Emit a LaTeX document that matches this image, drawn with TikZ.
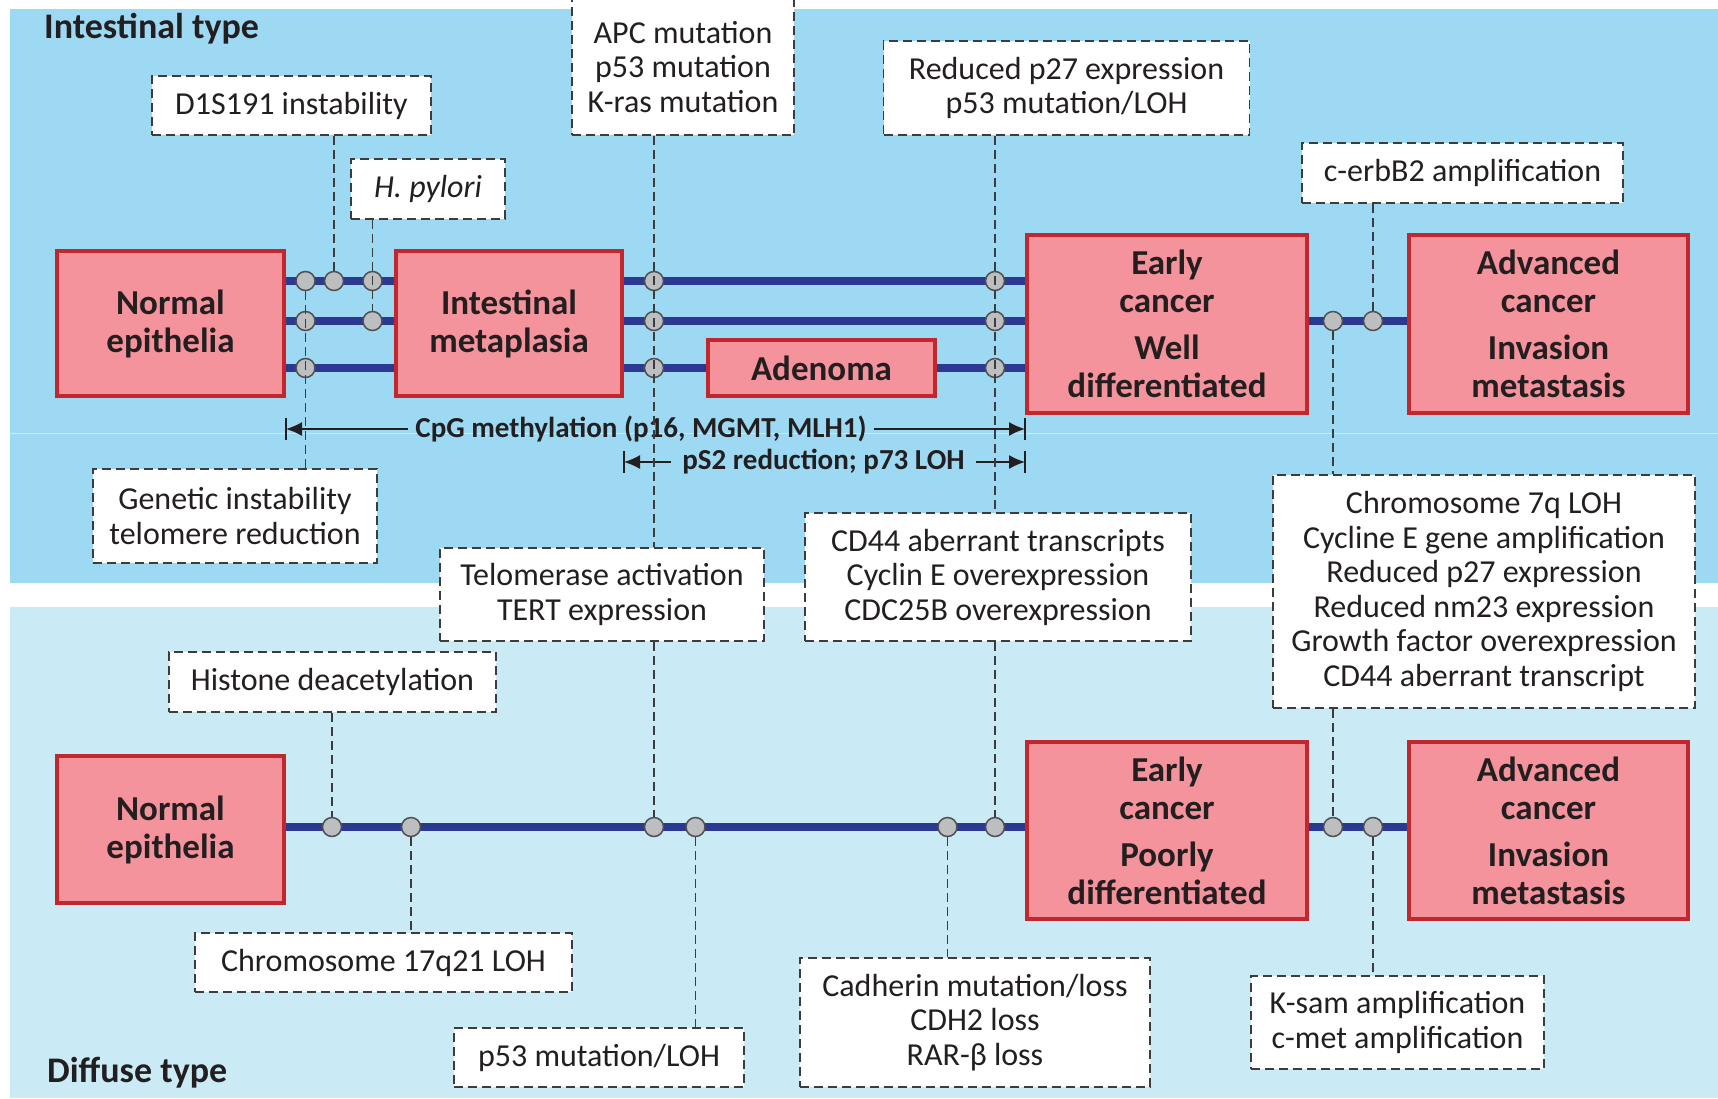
\documentclass[tikz,border=0pt]{standalone}
\usepackage{fontspec}
\setmainfont{Carlito}
\usetikzlibrary{arrows.meta}
\definecolor{topbg}{HTML}{9ED9F3}
\definecolor{botbg}{HTML}{CAEAF5}
\definecolor{stagefill}{HTML}{F4939B}
\definecolor{stagedraw}{HTML}{C1272D}
\definecolor{navy}{HTML}{2B3990}
\definecolor{hitfill}{HTML}{BCBEC0}
\definecolor{hitdraw}{HTML}{505052}
\definecolor{dashcol}{HTML}{3C3C3C}
\definecolor{txt}{HTML}{231F20}
\pgfdeclarelayer{bgfill}
\pgfdeclarelayer{lines}
\pgfsetlayers{bgfill,lines,main}
\begin{document}
\begin{tikzpicture}[x=1pt,y=-1pt,
  stage/.style={draw=stagedraw, fill=stagefill, line width=4pt, inner sep=0pt, align=center,
    font=\fontsize{35}{38}\selectfont\bfseries, text=txt},
  note/.style={draw=dashcol, fill=white, line width=1.6pt, dash pattern=on 9pt off 5pt,
    inner sep=0pt, align=center, font=\fontsize{32}{34.5}\selectfont, text=txt},
  hit/.style={circle, draw=hitdraw, fill=hitfill, line width=1.5pt, minimum size=19pt, inner sep=0pt},
  conn/.style={draw=dashcol, line width=1.5pt, dash pattern=on 9pt off 5pt},
  track/.style={draw=navy, line width=7.5pt},
  lbl/.style={font=\fontsize{36}{40}\selectfont\bfseries, text=txt, inner sep=0pt, anchor=base west},
  arrlbl/.style={font=\fontsize{29}{31}\selectfont\bfseries, text=txt, inner ysep=2pt},
  meas/.style={line width=1.5pt, draw=txt, -{Latex[length=16pt,width=14pt]}},
  barline/.style={line width=1.5pt, draw=txt},
]
\useasboundingbox (0,0) rectangle (1718,1098);
\begin{pgfonlayer}{bgfill}
  \fill[white] (0,0) rectangle (1718,1098);
  \fill[topbg] (10,9) rectangle (1718,583);
  \fill[botbg] (10,607) rectangle (1718,1098);
  \draw[topbg!55!white, line width=1pt] (10,433) -- (1718,433);
\end{pgfonlayer}

% labels
\node[lbl] (it) at (44,38) {Intestinal type};
\node[lbl] (dt) at (47,1082) {Diffuse type};

% stage boxes
\node[stage, minimum width=227pt, minimum height=145pt] (N1) at (170.5,323.5) {Normal\\epithelia};
\node[stage, minimum width=226pt, minimum height=145pt] (IM) at (509,323.5) {Intestinal\\metaplasia};
\node[stage, minimum width=227pt, minimum height=56pt] (AD) at (821.5,368) {Adenoma};
\node[stage, minimum width=280pt, minimum height=178pt] (EC1) at (1167,324) {Early\\cancer\\[9pt]Well\\differentiated};
\node[stage, minimum width=279pt, minimum height=178pt] (AC1) at (1548.5,324) {Advanced\\cancer\\[9pt]Invasion\\metastasis};
\node[stage, minimum width=227pt, minimum height=147pt] (N2) at (170.5,829.5) {Normal\\epithelia};
\node[stage, minimum width=280pt, minimum height=177pt] (EC2) at (1167,830.5) {Early\\cancer\\[9pt]Poorly\\differentiated};
\node[stage, minimum width=279pt, minimum height=177pt] (AC2) at (1548.5,830.5) {Advanced\\cancer\\[9pt]Invasion\\metastasis};

% event markers
\node[hit] (t1a) at (305.5,281) {};
\node[hit] (t1b) at (334,281) {};
\node[hit] (t1c) at (372.5,281) {};
\node[hit] (t1d) at (654,281) {};
\node[hit] (t1e) at (995,281) {};
\node[hit] (t2a) at (305.5,321) {};
\node[hit] (t2c) at (372.5,321) {};
\node[hit] (t2d) at (654,321) {};
\node[hit] (t2e) at (995,321) {};
\node[hit] (t2g) at (1333,321) {};
\node[hit] (t2h) at (1373,321) {};
\node[hit] (t3a) at (305.5,368) {};
\node[hit] (t3d) at (654,368) {};
\node[hit] (t3e) at (995,368) {};
\node[hit] (b1) at (332,827) {};
\node[hit] (b2) at (411,827) {};
\node[hit] (b3) at (654,827) {};
\node[hit] (b4) at (695.5,827) {};
\node[hit] (b5) at (947.5,827) {};
\node[hit] (b6) at (995,827) {};
\node[hit] (b7) at (1333,827) {};
\node[hit] (b8) at (1373,827) {};

% tracks
\begin{pgfonlayer}{lines}
  \draw[track] (N1.east |- t1a) -- (EC1.west |- t1a);
  \draw[track] (N1.east |- t2a) -- (EC1.west |- t2a);
  \draw[track] (N1.east |- t3a) -- (EC1.west |- t3a);
  \draw[track] (EC1.east |- t2g) -- (AC1.west |- t2g);
  \draw[track] (N2.east |- b1) -- (EC2.west |- b1);
  \draw[track] (EC2.east |- b7) -- (AC2.west |- b7);
\end{pgfonlayer}

% notes
\node[note, minimum width=279pt, minimum height=59pt] (D1S) at (291.5,105.5) {D1S191 instability};
\node[note, minimum width=154pt, minimum height=60pt] (HP) at (428,189) {\textit{H. pylori}};
\node[note, minimum width=222pt, minimum height=136pt] (APC) at (683,67) {APC mutation\\p53 mutation\\K-ras mutation};
\node[note, minimum width=366pt, minimum height=94pt] (RP27) at (1066.5,88) {Reduced p27 expression\\p53 mutation/LOH};
\node[note, minimum width=321pt, minimum height=60pt] (CERB) at (1462.5,173) {c-erbB2 amplification};
\node[note, minimum width=284pt, minimum height=94pt] (GEN) at (235,516) {Genetic instability\\telomere reduction};
\node[note, minimum width=324pt, minimum height=93pt] (TEL) at (602,594.5) {Telomerase activation\\TERT expression};
\node[note, minimum width=386pt, minimum height=128pt] (CD44) at (998,577) {CD44 aberrant transcripts\\Cyclin E overexpression\\CDC25B overexpression};
\node[note, minimum width=422pt, minimum height=233pt] (CHR7) at (1484,591.5) {Chromosome 7q LOH\\Cycline E gene amplification\\Reduced p27 expression\\Reduced nm23 expression\\Growth factor overexpression\\CD44 aberrant transcript};
\node[note, minimum width=327pt, minimum height=60pt] (HIST) at (332.5,682) {Histone deacetylation};
\node[note, minimum width=377pt, minimum height=59pt] (CHR17) at (383.5,962.5) {Chromosome 17q21 LOH};
\node[note, minimum width=290pt, minimum height=59pt] (P53) at (599,1057.5) {p53 mutation/LOH};
\node[note, minimum width=350pt, minimum height=129pt] (CAD) at (975,1022.5) {Cadherin mutation/loss\\CDH2 loss\\RAR-β loss};
\node[note, minimum width=293pt, minimum height=93pt] (KSAM) at (1397.5,1022.5) {K-sam amplification\\c-met amplification};

% range arrows
\node[arrlbl, inner xsep=7pt] (cpg) at (641,429) {CpG methylation (p16, MGMT, MLH1)};
\coordinate (cpgL) at (N1.east |- cpg);
\coordinate (cpgR) at (EC1.west |- cpg);
\draw[meas] (cpg.west) -- (cpgL);
\draw[meas] (cpg.east) -- (cpgR);
\draw[barline] ([yshift=11pt]cpgL) -- ([yshift=-11pt]cpgL);
\draw[barline] ([yshift=11pt]cpgR) -- ([yshift=-11pt]cpgR);

\node[arrlbl, inner xsep=11pt] (ps2) at (823.5,462) {pS2 reduction; p73 LOH};
\coordinate (ps2L) at (IM.east |- ps2);
\coordinate (ps2R) at (EC1.west |- ps2);
\draw[meas] (ps2.west) -- (ps2L);
\draw[meas] (ps2.east) -- (ps2R);
\draw[barline] ([yshift=11pt]ps2L) -- ([yshift=-11pt]ps2L);
\draw[barline] ([yshift=11pt]ps2R) -- ([yshift=-11pt]ps2R);

% dashed connectors
\draw[conn] (t1b |- D1S.south) -- (t1b.north);
\draw[conn] (t2c |- HP.south) -- (t2c.north);
\draw[conn] (t1a.south) -- (t1a |- GEN.north);
\draw[conn] (t1d |- APC.south) -- (t1d |- TEL.north);
\draw[conn] (t1e |- RP27.south) -- (t1e |- CD44.north);
\draw[conn] (t2h |- CERB.south) -- (t2h.north);
\draw[conn] (t2g.south) -- (t2g |- CHR7.north);
\draw[conn] (b1 |- HIST.south) -- (b1.north);
\draw[conn] (b2.south) -- (b2 |- CHR17.north);
\draw[conn] (b3 |- TEL.south) -- (b3.north);
\draw[conn] (b4.south) -- (b4 |- P53.north);
\draw[conn] (b5.south) -- (b5 |- CAD.north);
\draw[conn] (b6 |- CD44.south) -- (b6.north);
\draw[conn] (b7 |- CHR7.south) -- (b7.north);
\draw[conn] (b8.south) -- (b8 |- KSAM.north);
\end{tikzpicture}
\end{document}
